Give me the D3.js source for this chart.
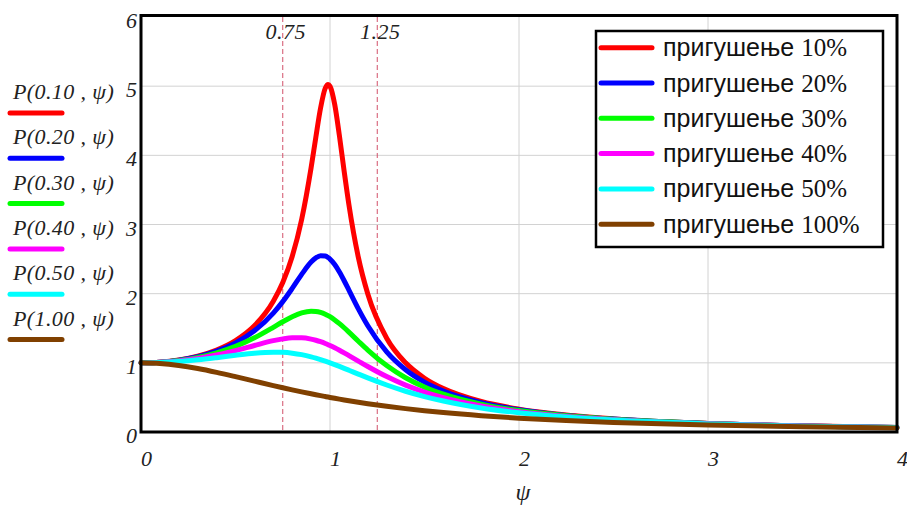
<!DOCTYPE html>
<html>
<head>
<meta charset="utf-8">
<script src="https://cdn.jsdelivr.net/npm/d3@7"></script>
<style>
	body { margin: 0; background: #fff; }
	svg { display: block; }
	.tick-label { font-family: "Liberation Serif", "Times New Roman", serif; font-style: italic; font-size: 22px; fill: #222; }
	.leg-text { font-family: "Liberation Sans", Arial, sans-serif; font-size: 25px; fill: #111; }
	.leg-num { font-family: "Liberation Serif", "Times New Roman", serif; font-size: 25px; }
</style>
</head>
<body>
<script>

// psi grid (x values)
var psi = [0, 0.1, 0.2, 0.3, 0.4, 0.5, 0.6, 0.7, 0.75, 0.8, 0.85, 0.9, 0.925, 0.95, 0.975, 0.99, 1.0,
	1.025, 1.05, 1.075, 1.1, 1.15, 1.2, 1.3, 1.4, 1.5, 1.6, 1.8, 2.0, 2.25, 2.5, 3.0, 3.5, 4.0];

var p010 = [1, 1.0099, 1.0408, 1.0965, 1.1851, 1.3216, 1.5357, 1.8908, 2.1622, 2.5384, 3.0728, 3.8208, 4.2613, 4.6826, 4.9714, 5.0251, 5.0,
	4.7357, 4.2794, 3.7677, 3.2880, 2.5245, 1.9952, 1.3562, 1.0, 0.7779, 0.6279, 0.4408, 0.3304, 0.2447, 0.1896, 0.1246, 0.0887, 0.0666];
var p020 = [1, 1.0093, 1.0381, 1.0895, 1.1695, 1.2883, 1.4630, 1.7188, 1.8851, 2.0762, 2.2785, 2.4566, 2.5178, 2.5490, 2.5438, 2.5221, 2.5,
	2.4207, 2.3130, 2.1868, 2.0511, 1.7800, 1.5357, 1.1574, 0.8998, 0.7212, 0.5931, 0.4250, 0.3221, 0.2403, 0.1871, 0.1236, 0.0882, 0.0663];
var p030 = [1, 1.0083, 1.0336, 1.0780, 1.1447, 1.2380, 1.3618, 1.5136, 1.5933, 1.6667, 1.7223, 1.7469, 1.7438, 1.7293, 1.7033, 1.6826, 1.6667,
	1.6205, 1.5667, 1.5071, 1.4438, 1.3129, 1.1851, 0.9603, 0.7839, 0.6492, 0.5459, 0.4021, 0.3095, 0.2336, 0.1831, 0.1220, 0.0874, 0.0658];
var p040 = [1, 1.0068, 1.0275, 1.0626, 1.1125, 1.1765, 1.25, 1.3203, 1.3467, 1.3618, 1.3616, 1.3429, 1.3263, 1.3051, 1.2795, 1.2622, 1.25,
	1.2172, 1.1817, 1.1442, 1.1053, 1.0258, 0.9469, 0.8012, 0.6779, 0.5771, 0.4956, 0.3755, 0.2941, 0.2251, 0.1780, 0.1197, 0.0863, 0.0652];
var p050 = [1, 1.0050, 1.0198, 1.0436, 1.0748, 1.1094, 1.1399, 1.1546, 1.1517, 1.1399, 1.1184, 1.0871, 1.0681, 1.0471, 1.0243, 1.0099, 1.0,
	0.9744, 0.9479, 0.9206, 0.8930, 0.8373, 0.7824, 0.6795, 0.5891, 0.5121, 0.4475, 0.3480, 0.2774, 0.2153, 0.1720, 0.1170, 0.0849, 0.0644];
var p100 = [1, 0.9901, 0.9615, 0.9174, 0.8621, 0.8, 0.7353, 0.6711, 0.64, 0.6098, 0.5806, 0.5525, 0.5389, 0.5256, 0.5127, 0.5050, 0.5,
	0.4877, 0.4756, 0.4639, 0.4525, 0.4306, 0.4098, 0.3717, 0.3378, 0.3077, 0.2809, 0.2358, 0.2, 0.1649, 0.1379, 0.1, 0.0755, 0.0588];

var seriesNames = ["P(0.10 , \u03c8)", "P(0.20 , \u03c8)", "P(0.30 , \u03c8)", "P(0.40 , \u03c8)", "P(0.50 , \u03c8)", "P(1.00 , \u03c8)"];
var dampingLabels = ["10%", "20%", "30%", "40%", "50%", "100%"];
var seriesColors = ["#ff0000", "#0000ff", "#00ff00", "#ff00ff", "#00ffff", "#804000"];

var xTicks = [0, 1, 2, 3, 4];
var yTicks = [0, 1, 2, 3, 4, 5, 6];
var markers = [0.75, 1.25];

(function()
{
	var W = 907, H = 505;
	var pLeft = 141, pRight = 897, pTop = 17, pBottom = 432;

	var svg = d3.select("body").append("svg")
		.attr("width", W)
		.attr("height", H);

	var x = d3.scaleLinear().domain([0, 4]).range([pLeft, pRight]);
	var y = d3.scaleLinear().domain([0, 6]).range([pBottom, pTop]);

	// grid
	var grid = svg.append("g").attr("class", "grid");

	grid.selectAll("line.gx")
		.data(xTicks.slice(1, -1))
		.enter().append("line")
		.attr("x1", d => x(d)).attr("x2", d => x(d))
		.attr("y1", pTop).attr("y2", pBottom)
		.attr("stroke", "#d2d2d2").attr("stroke-width", 1);

	grid.selectAll("line.gy")
		.data(yTicks.slice(1, -1))
		.enter().append("line")
		.attr("x1", pLeft).attr("x2", pRight)
		.attr("y1", d => y(d)).attr("y2", d => y(d))
		.attr("stroke", "#d2d2d2").attr("stroke-width", 1);

	// marker lines at 0.75 and 1.25
	svg.selectAll("line.marker")
		.data(markers)
		.enter().append("line")
		.attr("x1", d => x(d)).attr("x2", d => x(d))
		.attr("y1", pTop).attr("y2", pBottom)
		.attr("stroke", "#d2506a")
		.attr("stroke-width", 1)
		.attr("stroke-dasharray", "5,3");

	svg.selectAll("text.marker")
		.data(markers)
		.enter().append("text")
		.attr("class", "tick-label")
		.attr("x", d => x(d) + 3)
		.attr("y", 39)
		.attr("text-anchor", "middle")
		.style("letter-spacing", "0.5px")
		.text(d => d3.format(".2f")(d));

	// curves
	var allSeries = [p010, p020, p030, p040, p050, p100];

	var line = d3.line()
		.x((d, i) => x(psi[i]))
		.y(d => y(d))
		.curve(d3.curveMonotoneX);

	svg.append("g").attr("class", "curves")
		.selectAll("path")
		.data(allSeries)
		.enter().append("path")
		.attr("d", d => line(d))
		.attr("fill", "none")
		.attr("stroke", (d, i) => seriesColors[i])
		.attr("stroke-width", 5)
		.attr("stroke-linejoin", "round")
		.attr("stroke-linecap", "round");

	// frame
	svg.append("rect")
		.attr("x", pLeft).attr("y", pTop - 1.5)
		.attr("width", pRight - pLeft).attr("height", pBottom - pTop + 1.5)
		.attr("fill", "none")
		.attr("stroke", "#000")
		.attr("stroke-width", 3);

	// axis labels
	svg.selectAll("text.xl")
		.data(xTicks)
		.enter().append("text")
		.attr("class", "tick-label")
		.attr("x", d => x(d))
		.attr("y", 466)
		.text(d => d);

	svg.selectAll("text.yl")
		.data(yTicks)
		.enter().append("text")
		.attr("class", "tick-label")
		.attr("x", 137)
		.attr("y", d => y(d) + 11)
		.attr("text-anchor", "end")
		.text(d => d);

	svg.append("text")
		.attr("class", "tick-label")
		.attr("x", 523)
		.attr("y", 500)
		.attr("text-anchor", "middle")
		.style("font-size", "24px")
		.text("\u03c8");

	// left legend (series names)
	var leftLeg = svg.append("g").attr("class", "left-legend");

	seriesNames.forEach(function(name, i)
	{
		var ly = 113 + i * 45.3;
		leftLeg.append("text")
			.attr("class", "tick-label")
			.attr("x", 13)
			.attr("y", ly - 14)
			.style("font-size", "22px")
			.style("letter-spacing", "0.4px")
			.text(name);
		leftLeg.append("line")
			.attr("x1", 10).attr("x2", 62)
			.attr("y1", ly).attr("y2", ly)
			.attr("stroke", seriesColors[i])
			.attr("stroke-width", 5)
			.attr("stroke-linecap", "round");
	});

	// right legend box
	var box = svg.append("g").attr("class", "legend-box");

	box.append("rect")
		.attr("x", 596).attr("y", 31)
		.attr("width", 287).attr("height", 216)
		.attr("fill", "#fff")
		.attr("stroke", "#000")
		.attr("stroke-width", 2.5);

	dampingLabels.forEach(function(lab, i)
	{
		var ly = 47.7 + i * 35.3;
		box.append("line")
			.attr("x1", 601).attr("x2", 652)
			.attr("y1", ly).attr("y2", ly)
			.attr("stroke", seriesColors[i])
			.attr("stroke-width", 5)
			.attr("stroke-linecap", "round");
		var t = box.append("text")
			.attr("class", "leg-text")
			.attr("x", 663)
			.attr("y", ly + 8.5);
		t.append("tspan").text("\u043f\u0440\u0438\u0433\u0443\u0448\u0435\u045a\u0435 ");
		t.append("tspan").attr("class", "leg-num").text(lab);
	});
})();

</script>
</body>
</html>
